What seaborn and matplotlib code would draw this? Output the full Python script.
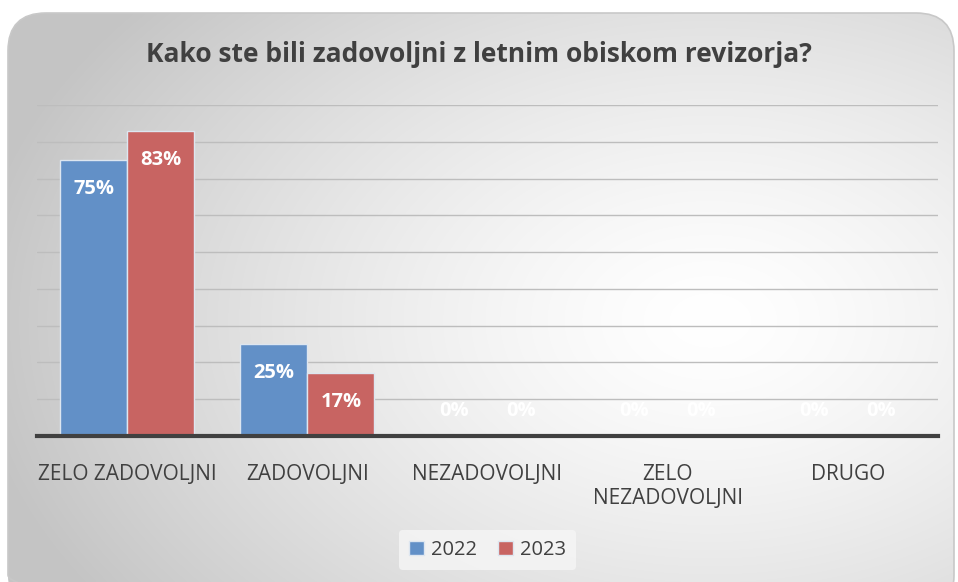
import numpy as np
import pandas as pd
import matplotlib
matplotlib.use("Agg")
import matplotlib.pyplot as plt
import seaborn as sns
from matplotlib.patches import FancyBboxPatch

# data
categories = ["ZELO ZADOVOLJNI", "ZADOVOLJNI", "NEZADOVOLJNI", "ZELO\nNEZADOVOLJNI", "DRUGO"]
values_2022 = [75, 25, 0, 0, 0]
values_2023 = [83, 17, 0, 0, 0]
years = ["2022", "2023"]

df = pd.DataFrame({
    "Kategorija": categories * 2,
    "Leto": [years[0]] * len(categories) + [years[1]] * len(categories),
    "Delez": values_2022 + values_2023,
})

sns.set_theme(style="white")
plt.rcParams["font.family"] = ["Open Sans", "DejaVu Sans"]

W, H = 958, 582
fig = plt.figure(figsize=(W / 100, H / 100), dpi=100)
fig.patch.set_facecolor("white")

# background: rounded panel with radial gray gradient
bg = fig.add_axes([0, 0, 1, 1])
bg.set_xlim(0, W)
bg.set_ylim(H, 0)
bg.axis("off")
xx, yy = np.meshgrid(np.arange(W), np.arange(H))
r = np.sqrt(((xx - 710) / 720) ** 2 + ((yy - 320) / 480) ** 2)
shade = np.clip(1 - 0.22 * r ** 1.4, 0.77, 1.0)
img = np.dstack([shade, shade, shade])
panel = FancyBboxPatch((8, 13), 946, 600, boxstyle="round,pad=0,rounding_size=38",
                       facecolor="none", edgecolor="#c8c8c8", lw=1.2)
bg.add_patch(panel)
im = bg.imshow(img, extent=(0, W, H, 0), zorder=0)
im.set_clip_path(panel)

ax = fig.add_axes([37 / W, 1 - 436 / H, (938 - 37) / W, (436 - 105) / H])
ax.patch.set_alpha(0)
sns.barplot(data=df, x="Kategorija", y="Delez", hue="Leto", ax=ax,
            palette=["#6290c7", "#c86462"], width=0.745, gap=0,
            edgecolor="#dde6f0", linewidth=1, saturation=1, legend=True)
ax.set_ylim(0, 90)
ax.set_xlim(-0.5, len(categories) - 0.5)
ax.set_yticks(np.arange(10, 91, 10))
ax.yaxis.grid(True, color="#bdbdbd", lw=1)
ax.set_axisbelow(True)
ax.tick_params(axis="y", left=False, labelleft=False)
ax.tick_params(axis="x", bottom=False, pad=14, labelsize=15, labelcolor="#404040")
for s in ["top", "right", "left"]:
    ax.spines[s].set_visible(False)
ax.spines["bottom"].set_color("#404040")
ax.spines["bottom"].set_linewidth(3)
ax.set_xlabel("")
ax.set_ylabel("")

for cont in ax.containers:
    for bar in cont:
        v = bar.get_height()
        off = -29 if v > 0 else 25
        ax.annotate(f"{v:.0f}%", (bar.get_x() + bar.get_width() / 2, v),
                    xytext=(0, off), textcoords="offset pixels",
                    ha="center", va="center", color="white",
                    fontsize=14.5, fontweight="bold")

leg = ax.legend(loc="center", bbox_to_anchor=(0.5, (436 - 550) / (436 - 105)),
                ncol=2, frameon=True, fontsize=14.5, handlelength=0.75, handleheight=0.75,
                columnspacing=1.0, handletextpad=0.35, borderpad=0.5)
leg.get_frame().set_facecolor("#f6f6f6")
leg.get_frame().set_edgecolor("none")
for t in leg.get_texts():
    t.set_color("#404040")

fig.text(0.5, 1 - 54 / H, "Kako ste bili zadovoljni z letnim obiskom revizorja?",
         ha="center", va="center", fontsize=19, fontweight="bold", color="#404040")

fig.savefig("out.png", dpi=100)
